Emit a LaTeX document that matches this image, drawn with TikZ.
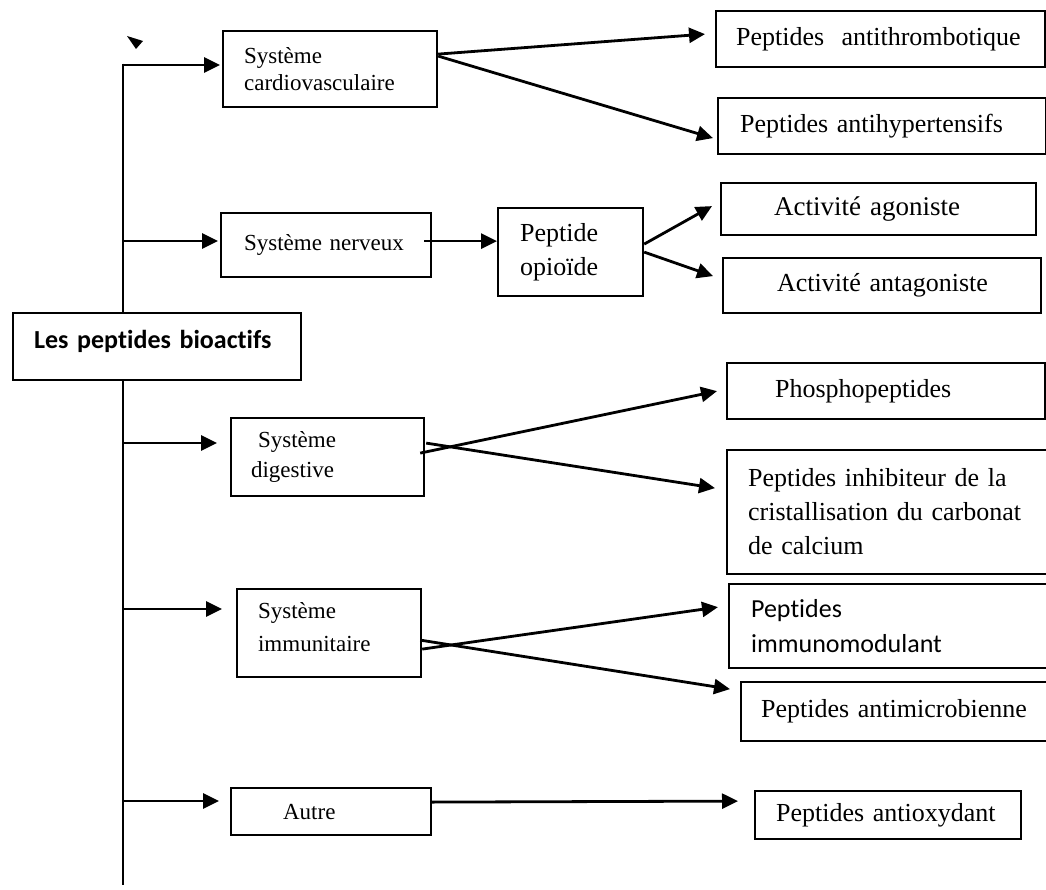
\documentclass[tikz,border=0pt]{standalone}
\usepackage{fontspec}
\setmainfont{Liberation Serif}
\newfontfamily\calibrifont{Carlito}[Ligatures=NoCommon]
\usetikzlibrary{arrows.meta}

\begin{document}
\begin{tikzpicture}[x=1pt,y=-1pt,
  box/.style={draw, line width=2.2pt, fill=white, anchor=north west,
              inner xsep=0pt, inner ysep=0pt, align=left},
  conn/.style={line width=2.8pt, -{Triangle[length=16pt,width=15pt]}},
  trunkline/.style={line width=2.8pt},
  txtA/.style={font=\fontsize{26}{30}\selectfont},
  txtB/.style={font=\fontsize{23}{27}\selectfont}]

\useasboundingbox (0,0) rectangle (1046,890);

% main trunk
\coordinate (b1) at (123,65);
\coordinate (b2) at (123,241);
\coordinate (b3) at (123,443);
\coordinate (b4) at (123,609);
\coordinate (b5) at (123,801);
\coordinate (bend) at (123,885);
\draw[trunkline] ([yshift=1.4pt]b1) -- (bend);

% stray arrow tip near the top
\fill (127,36) -- (143,41) -- (136,49) -- cycle;

% boxes
\node[box, minimum width=214pt, minimum height=76pt, text width=172pt,
      font=\fontsize{23}{27}\selectfont] (cardio) at (222,30)
      {\mbox{Système}\\\mbox{cardiovasculaire}};
\node[box, txtA, minimum width=329pt, minimum height=56pt, text width=289pt] (thromb) at (715,10)
      {\mbox{Peptides\ \ antithrombotique}};
\node[box, txtA, minimum width=328pt, minimum height=56pt, text width=284pt] (hyper) at (717,97)
      {\mbox{Peptides antihypertensifs}};

\node[box, txtB, minimum width=210pt, minimum height=64pt, text width=164pt] (nerveux) at (220,212)
      {\mbox{Système nerveux}};
\node[box, minimum width=145pt, minimum height=88pt, text width=101pt,
      font=\fontsize{26}{34}\selectfont] (opioide) at (497,207)
      {\mbox{Peptide}\\\mbox{opioïde}};
\node[box, minimum width=315pt, minimum height=52pt, text width=209pt,
      font=\fontsize{27}{30}\selectfont] (agoniste) at (720,182)
      {\mbox{Activité agoniste}};
\node[box, txtA, minimum width=318pt, minimum height=55pt, text width=210pt] (antagon) at (722,257)
      {\mbox{Activité antagoniste}};

\node[box, minimum width=288pt, minimum height=67pt, text width=246pt,
      font=\calibrifont\bfseries\fontsize{26}{30}\selectfont] (bioactifs) at (12,312)
      {\mbox{Les peptides bioactifs}\rule[-15pt]{0pt}{15pt}};

\node[box, minimum width=193pt, minimum height=78pt, text width=153pt,
      font=\fontsize{23}{30}\selectfont] (digestive) at (230,417)
      {\mbox{\hspace{7pt}Système}\\\mbox{digestive}};
\node[box, txtA, minimum width=318pt, minimum height=56pt, text width=222pt] (phospho) at (726,362)
      {\mbox{Phosphopeptides}};
\node[box, minimum width=320pt, minimum height=124pt, text width=278pt,
      font=\fontsize{26}{34}\selectfont] (inhib) at (726,449)
      {\mbox{Peptides inhibiteur de la}\\\mbox{cristallisation du carbonat}\\\mbox{de calcium}};

\node[box, minimum width=184pt, minimum height=88pt, text width=142pt,
      font=\fontsize{23}{33}\selectfont] (immun) at (236,588)
      {\mbox{Système}\\\mbox{immunitaire}\rule[-12pt]{0pt}{12pt}};
\node[box, minimum width=318pt, minimum height=84pt, text width=274pt,
      font=\calibrifont\fontsize{26}{35}\selectfont] (immuno) at (728,583)
      {\mbox{Peptides}\\\mbox{immunomodulant}};
\node[box, txtA, minimum width=306pt, minimum height=59pt, text width=266pt] (microb) at (740,681)
      {\mbox{Peptides antimicrobienne}};

\node[box, txtB, minimum width=200pt, minimum height=47pt, text width=96pt] (autre) at (230,787)
      {\mbox{Autre}};
\node[box, txtA, minimum width=266pt, minimum height=48pt, text width=224pt] (oxyd) at (754,790)
      {\mbox{Peptides antioxydant}};

% branches from the trunk
\draw[conn] (b1) -- ([xshift=-2pt]b1 -| cardio.west);
\draw[conn] (b2) -- ([xshift=-2pt]b2 -| nerveux.west);
\draw[conn] (b3) -- ([xshift=-13pt]b3 -| digestive.west);
\draw[conn] (b4) -- ([xshift=-14pt]b4 -| immun.west);
\draw[conn] (b5) -- ([xshift=-11pt]b5 -| autre.west);

% cardiovascular system
\draw[conn] ([yshift=15pt]cardio.east) -- ([xshift=-10pt,yshift=5pt]thromb.west);
\draw[conn] ([yshift=13pt]cardio.east) -- ([xshift=-4pt,yshift=-12pt]hyper.west);

% nervous system
\draw[conn] ([xshift=-8pt,yshift=4pt]nerveux.east) -- ([yshift=11pt]opioide.west);
\draw[conn] ([yshift=8pt]opioide.east) -- ([xshift=-8pt,yshift=3pt]agoniste.west);
\draw[conn] (opioide.east) -- ([xshift=-9pt,yshift=9.5pt]antagon.west);

% digestive system
\draw[conn] ([xshift=-5pt,yshift=4pt]digestive.east) -- ([xshift=-9pt]phospho.west);
\draw[conn] ([xshift=1pt,yshift=14pt]digestive.east) -- ([xshift=-11pt,yshift=24pt]inhib.west);

% immune system
\draw[conn] ([xshift=-2pt,yshift=-7pt]immun.east) -- ([xshift=-10pt,yshift=22.5pt]microb.west);
\draw[conn] ([yshift=-16pt]immun.east) -- ([xshift=-10pt,yshift=19pt]immuno.west);

% other
\draw[conn] ([yshift=9.5pt]autre.east) -- ([xshift=-16pt,yshift=14pt]oxyd.west);

\end{tikzpicture}
\end{document}
